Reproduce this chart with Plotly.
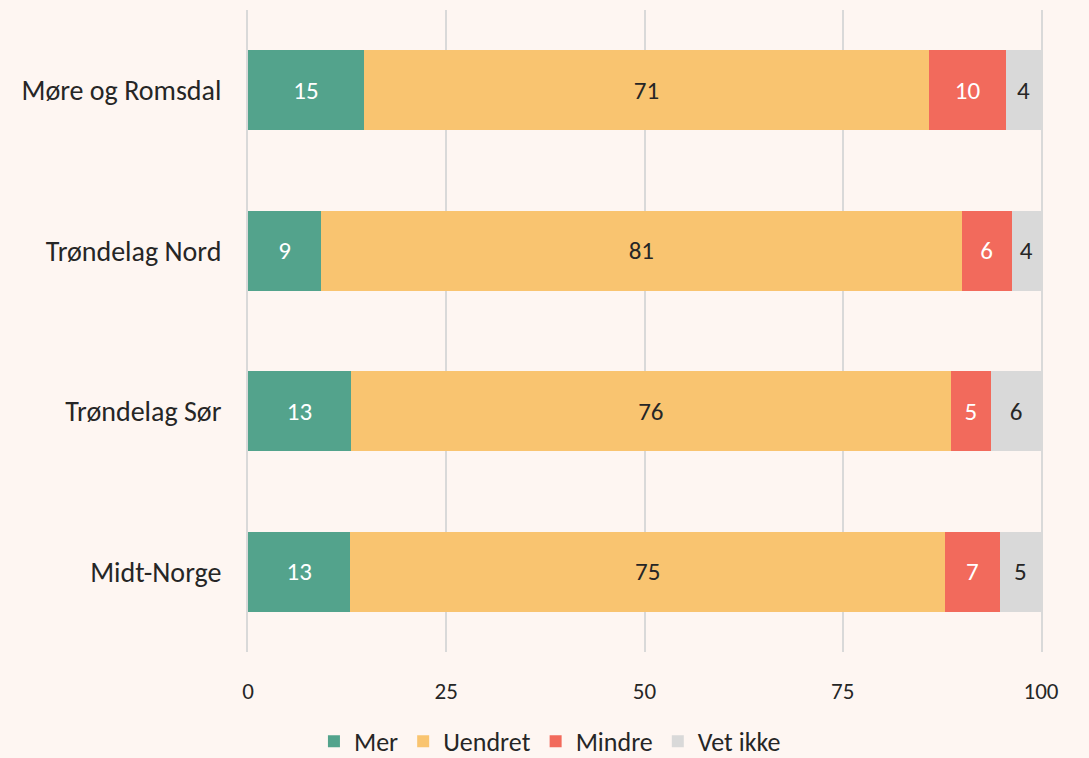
import plotly.graph_objects as go

categories = ["Møre og Romsdal", "Trøndelag Nord", "Trøndelag Sør", "Midt-Norge"]
series_names = ["Mer", "Uendret", "Mindre", "Vet ikke"]
mer = [14.6, 9.2, 13.0, 12.9]
uendret = [71.3, 80.8, 75.6, 75.0]
mindre = [9.7, 6.3, 5.1, 6.9]
vet_ikke = [4.4, 3.7, 6.3, 5.2]
x_ticks = [0, 25, 50, 75, 100]

colors = ["#53a38c", "#f9c470", "#f26a5c", "#d9d9d9"]
text_colors = ["#ffffff", "#262626", "#ffffff", "#262626"]
FONT = "Carlito, Calibri, Lato, sans-serif"

fig = go.Figure()
for name, vals, col, tcol in zip(series_names, [mer, uendret, mindre, vet_ikke], colors, text_colors):
    fig.add_trace(go.Bar(
        y=categories, x=vals, name=name, orientation="h",
        marker=dict(color=col, line=dict(width=0)),
        texttemplate="%{x:.0f}", textposition="inside", insidetextanchor="middle",
        textangle=0, constraintext="none",
        insidetextfont=dict(color=tcol, size=25, family=FONT),
        hoverinfo="skip",
    ))

fig.update_layout(
    barmode="stack", bargap=0.5,
    width=1089, height=758,
    paper_bgcolor="#fef6f2", plot_bgcolor="#fef6f2",
    margin=dict(l=248, r=48, t=10, b=106),
    font=dict(family=FONT, size=23, color="#262626"),
    xaxis=dict(range=[0, 100], tickvals=x_ticks, showgrid=True, gridcolor="#d9d9d9",
               gridwidth=2, zeroline=False, showline=False,
               ticks="outside", ticklen=18, tickcolor="rgba(0,0,0,0)",
               tickfont=dict(size=23, color="#262626")),
    yaxis=dict(autorange="reversed", showgrid=False, zeroline=False,
               showline=True, mirror=True, linecolor="#d9d9d9", linewidth=2,
               ticks="outside", ticklen=19, tickcolor="rgba(0,0,0,0)",
               tickfont=dict(size=28, color="#262626")),
    legend=dict(orientation="h", xref="container", yref="container", x=0.505, y=0.022,
                xanchor="center", yanchor="middle", font=dict(size=26, color="#262626"),
                traceorder="normal"),
    showlegend=True,
)

fig.write_html("out.html", config={"displayModeBar": False},
               post_script="document.body.style.margin='0px';document.body.style.padding='0px';")
